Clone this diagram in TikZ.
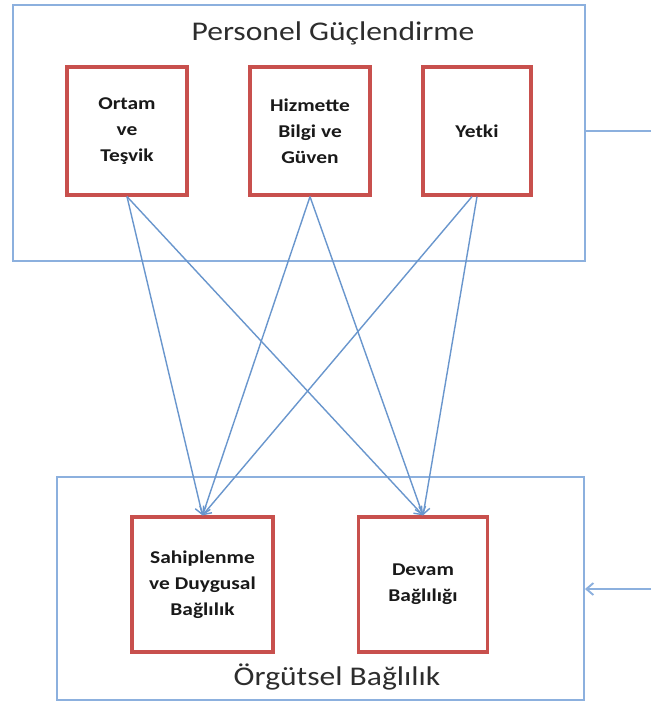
\documentclass[tikz,border=0pt]{standalone}
\usepackage{fontspec}
\setmainfont{Carlito}
\usetikzlibrary{arrows.meta}
\definecolor{frameblue}{RGB}{140,176,222}
\definecolor{lineblue}{RGB}{105,150,205}
\definecolor{boxred}{RGB}{200,80,77}
\definecolor{txt}{RGB}{25,25,25}
\definecolor{ttl}{RGB}{45,45,45}
\newcommand{\wdtxt}[1]{\scalebox{1.19}[1]{#1}}
\begin{document}
\begin{tikzpicture}[x=1pt,y=-1pt,
  frame/.style={draw=frameblue,line width=1.9pt,inner sep=0pt},
  redbox/.style={draw=boxred,line width=3.2pt,inner sep=0pt,align=center,
     font=\fontsize{18}{26}\selectfont\bfseries,text=txt},
  ttlnode/.style={font=\fontsize{27}{32}\selectfont,text=ttl,inner sep=0pt},
  conn/.style={draw=lineblue,line width=1.4pt,-{Straight Barb[length=7pt,width=11pt]}},
  plain/.style={draw=frameblue,line width=1.9pt}]
\useasboundingbox (0,0) rectangle (651,704);
\fill[white] (0,0) rectangle (651,704);
\node[frame,minimum width=572pt,minimum height=256pt] (tb) at (299,133) {};
\node[frame,minimum width=527pt,minimum height=223pt] (bb) at (320.5,588.5) {};
\node[ttlnode,xscale=1.17] (t1) at (333,33) {Personel Güçlendirme};
\node[ttlnode,xscale=1.17] (t2) at (337,677) {Örgütsel Bağlılık};
\node[redbox,minimum width=120pt,minimum height=128pt] (o) at (127,131) {\wdtxt{Ortam}\\\wdtxt{ve}\\\wdtxt{Teşvik}};
\node[redbox,minimum width=120pt,minimum height=128pt] (h) at (310,131) {\wdtxt{Hizmette}\\\wdtxt{Bilgi ve}\\\wdtxt{Güven}};
\node[redbox,minimum width=108pt,minimum height=128pt] (y) at (477,131) {\wdtxt{Yetki}};
\node[redbox,minimum width=141pt,minimum height=135pt] (s) at (202.5,584.5) {\wdtxt{Sahiplenme}\\\wdtxt{ve Duygusal}\\\wdtxt{Bağlılık}};
\node[redbox,minimum width=129pt,minimum height=135pt] (d) at (423,584.5) {\wdtxt{Devam}\\\wdtxt{Bağlılığı}};
\draw[conn] (o.south) -- (s.north);
\draw[conn] (o.south) -- (d.north);
\draw[conn] (h.south) -- (s.north);
\draw[conn] (h.south) -- (d.north);
\draw[conn] ([xshift=-5pt]y.south) -- (s.north);
\draw[conn] (y.south) -- (d.north);
\coordinate (r1) at (651,131);
\coordinate (r2) at (651,589);
\draw[plain] (r1) -- (tb.east |- r1);
\draw[plain,-{Straight Barb[length=7pt,width=12pt]}] (r2) -- (bb.east |- r2);
\end{tikzpicture}
\end{document}
